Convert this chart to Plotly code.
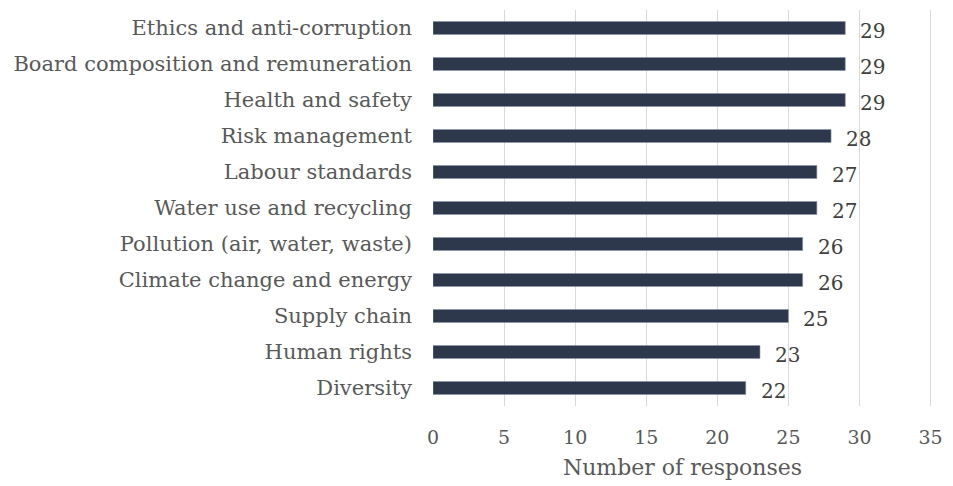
import plotly.graph_objects as go

# Topics, listed top to bottom
topics = [
    "Ethics and anti-corruption",
    "Board composition and remuneration",
    "Health and safety",
    "Risk management",
    "Labour standards",
    "Water use and recycling",
    "Pollution (air, water, waste)",
    "Climate change and energy",
    "Supply chain",
    "Human rights",
    "Diversity",
]
responses = [29, 29, 29, 28, 27, 27, 26, 26, 25, 23, 22]
x_ticks = [0, 5, 10, 15, 20, 25, 30, 35]

FONT = "DejaVu Serif"
GREY = "#595959"
BAR = "#2d384c"

fig = go.Figure(
    go.Bar(
        x=responses,
        y=topics,
        orientation="h",
        width=0.36,
        marker=dict(color=BAR, line=dict(color="#8a93a3", width=0.6)),
        hoverinfo="x+y",
    )
)

# Value labels to the right of each bar
for t, v in zip(topics, responses):
    fig.add_annotation(
        x=v, y=t, text=str(v), showarrow=False,
        xanchor="left", xshift=13, yshift=-3,
        font=dict(family=FONT, size=20, color="#404040"),
    )

fig.update_layout(
    width=953, height=486,
    margin=dict(l=433, r=21, t=10, b=80),
    paper_bgcolor="white", plot_bgcolor="white",
    showlegend=False,
    font=dict(family=FONT, color=GREY),
    bargap=0.64,
)
fig.update_xaxes(
    range=[0, 35.1], tickvals=x_ticks, ticktext=[str(t) for t in x_ticks],
    showgrid=True, gridcolor="#d9d9d9", gridwidth=1.3,
    zeroline=False, showline=False, ticks="",
    ticklabelstandoff=18,
    tickfont=dict(family=FONT, size=19, color=GREY),
    title=dict(text="Number of responses", font=dict(family=FONT, size=22, color=GREY), standoff=12),
)
fig.update_yaxes(
    categoryorder="array", categoryarray=topics[::-1],
    autorange=True, showgrid=False, zeroline=False, showline=False,
    ticks="", ticklabelstandoff=20,
    tickfont=dict(family=FONT, size=21, color=GREY),
)

fig.write_html("out.html")
